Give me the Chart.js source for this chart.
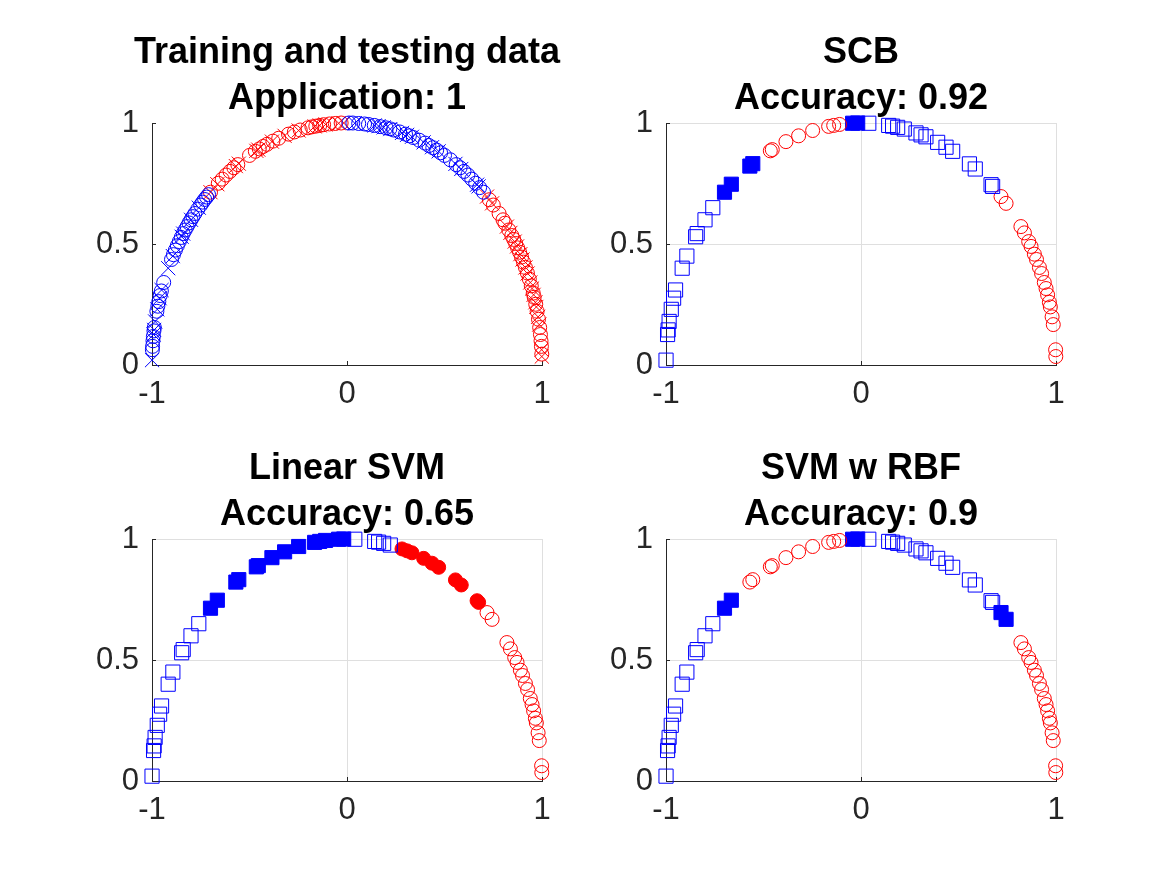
<!DOCTYPE html>
<html><head><meta charset="utf-8">
<script src="https://cdn.jsdelivr.net/npm/chart.js@4.4.1/dist/chart.umd.min.js"></script>
<style>
html,body{margin:0;padding:0;background:#fff;}
#fig{position:relative;width:1167px;height:875px;overflow:hidden;background:#fff;}
#fig canvas{position:absolute;}
</style></head><body>
<div id="fig">
<canvas id="c1" width="550" height="420" style="left:72px;top:0px;width:550px;height:420px"></canvas>
<canvas id="c2" width="550" height="420" style="left:586px;top:0px;width:550px;height:420px"></canvas>
<canvas id="c3" width="550" height="420" style="left:72px;top:416px;width:550px;height:420px"></canvas>
<canvas id="c4" width="550" height="420" style="left:586px;top:416px;width:550px;height:420px"></canvas>
</div>
<script>
// ---- tick values / labels ----
const xTicks = [-1, 0, 1];
const xTickLabels = ['-1', '0', '1'];
const yTicks = [0, 0.5, 1];
const yTickLabels = ['0', '0.5', '1'];

// ---- titles ----
const title1 = ['Training and testing data', 'Application: 1'];
const title2 = ['SCB', 'Accuracy: 0.92'];
const title3 = ['Linear SVM', 'Accuracy: 0.65'];
const title4 = ['SVM w RBF', 'Accuracy: 0.9'];

// ---- training data (class 1 = blue, class 2 = red) ----
const trainBlueX = [-0.998,-0.997,-0.995,-0.993,-0.99,-0.988,-0.975,-0.97,-0.965,-0.958,-0.952,-0.94,-0.9,-0.89,-0.88,-0.87,-0.86,-0.85,-0.84,-0.83,-0.82,-0.81,-0.8,-0.79,-0.78,-0.765,-0.75,-0.74,-0.73,-0.72,-0.71,
  0.01,0.03,0.06,0.09,0.11,0.14,0.17,0.2,0.22,0.24,0.27,0.3,0.32,0.34,0.37,0.4,0.42,0.44,0.46,0.48,0.5,0.53,0.56,0.58,0.6,0.62,0.64,0.66,0.68,0.7];
const trainBlueY = [0.063,0.077,0.100,0.118,0.141,0.155,0.222,0.243,0.262,0.287,0.306,0.341,0.436,0.456,0.475,0.493,0.510,0.527,0.543,0.558,0.572,0.587,0.600,0.613,0.626,0.644,0.661,0.673,0.684,0.694,0.704,
  1.0,1.0,0.998,0.996,0.994,0.990,0.985,0.980,0.976,0.971,0.963,0.954,0.947,0.940,0.929,0.917,0.907,0.898,0.888,0.877,0.866,0.848,0.828,0.815,0.800,0.785,0.768,0.751,0.733,0.714];
const trainRedX = [-0.70,-0.66,-0.64,-0.62,-0.6,-0.58,-0.56,-0.5,-0.47,-0.45,-0.43,-0.41,-0.38,-0.35,-0.3,-0.27,-0.24,-0.2,-0.18,-0.16,-0.14,-0.12,-0.09,-0.06,-0.03,
  0.73,0.75,0.78,0.8,0.81,0.83,0.845,0.855,0.865,0.875,0.885,0.895,0.905,0.915,0.925,0.935,0.945,0.955,0.96,0.968,0.975,0.982,0.988,0.992,0.995,0.997,0.999];
const trainRedY = [0.714,0.751,0.768,0.785,0.800,0.815,0.828,0.866,0.883,0.893,0.903,0.912,0.925,0.937,0.954,0.963,0.971,0.980,0.984,0.987,0.990,0.993,0.996,0.998,1.0,
  0.683,0.661,0.626,0.600,0.586,0.558,0.535,0.519,0.502,0.484,0.466,0.446,0.425,0.403,0.380,0.355,0.327,0.297,0.280,0.251,0.222,0.189,0.155,0.126,0.100,0.077,0.045];

// ---- testing data ----
const testX = [-0.9998,-0.992,-0.989,-0.984,-0.973,-0.961,-0.951,-0.917,-0.893,-0.848,-0.84,-0.80,-0.76,-0.70,-0.665,-0.57,-0.555,-0.465,-0.455,-0.385,-0.32,-0.248,-0.166,-0.14,-0.11,-0.043,-0.017,0.04,0.142,0.162,0.188,0.222,0.282,0.308,0.333,0.393,0.436,0.47,0.556,0.586,0.667,0.675,0.718,0.744,0.82,0.838,0.86,0.872,0.889,0.90,0.915,0.926,0.94,0.949,0.957,0.966,0.971,0.98,0.986,0.998,0.999];
const testY = [0.02,0.126,0.145,0.18,0.23,0.276,0.31,0.40,0.45,0.53,0.543,0.60,0.65,0.714,0.747,0.822,0.832,0.885,0.89,0.923,0.947,0.969,0.986,0.99,0.994,0.999,1.0,0.999,0.99,0.987,0.982,0.975,0.959,0.951,0.943,0.92,0.90,0.883,0.831,0.81,0.745,0.738,0.696,0.668,0.572,0.546,0.51,0.49,0.458,0.436,0.403,0.378,0.341,0.316,0.29,0.259,0.24,0.199,0.167,0.063,0.035];
const testTrue   = [1,1,1,1,1,1,1,1,1,1,1,1,1, 2,2,2,2,2,2,2,2,2,2,2,2,2,2, 1,1,1,1,1,1,1,1,1,1,1,1,1,1,1, 2,2,2,2,2,2,2,2,2,2,2,2,2,2,2,2,2,2,2];
const predSCB    = [1,1,1,1,1,1,1,1,1,1,1,1,1,1,1,1,1, 2,2,2,2,2,2,2,2, 1,1,1,1,1,1,1,1,1,1,1,1,1,1,1,1,1, 2,2,2,2,2,2,2,2,2,2,2,2,2,2,2,2,2,2,2];
const predLinear = [1,1,1,1,1,1,1,1,1,1,1,1,1,1,1,1,1,1,1,1,1,1,1,1,1,1,1,1,1,1,1,1, 2,2,2,2,2,2,2,2,2,2,2,2,2,2,2,2,2,2,2,2,2,2,2,2,2,2,2,2,2];
const predRBF    = [1,1,1,1,1,1,1,1,1,1,1,1,1,1,1, 2,2,2,2,2,2,2,2,2,2, 1,1,1,1,1,1,1,1,1,1,1,1,1,1,1,1,1,1,1, 2,2,2,2,2,2,2,2,2,2,2,2,2,2,2,2,2];

// ---- style ----
const BLUE = '#0000ff', RED = '#ff0000', NONE = 'rgba(0,0,0,0)';
const FONT = "'Liberation Sans', Arial, Helvetica, sans-serif";
const AXIS = '#262626', GRID = '#dfdfdf';
const R_CIRCLE = 7, R_SQUARE = 10, R_CROSS = 10;

function pts(xs, ys) { return xs.map((x, i) => ({x: x, y: ys[i]})); }
function pick(pred, truth, p, t) {
  const out = [];
  testX.forEach((x, i) => { if (pred[i] === p && truth[i] === t) out.push({x: x, y: testY[i]}); });
  return out;
}
function ds(data, style, color, filled, r) {
  return {data: data, pointStyle: style, pointRadius: r, borderWidth: 1, borderColor: color,
    pointBorderColor: color, pointBackgroundColor: filled ? color : NONE, backgroundColor: filled ? color : NONE,
    showLine: false, clip: false};
}
function testPts(labelVal) {
  return pick(testTrue, testTrue, labelVal, labelVal);
}

function make(id, title, datasets, showGrid) {
  new Chart(document.getElementById(id), {
    type: 'scatter',
    data: {datasets: datasets},
    options: {
      responsive: false, animation: false, events: [],
      layout: {padding: {left: 10, right: 10, top: 0, bottom: 5}},
      plugins: {
        legend: {display: false}, tooltip: {enabled: false},
        title: {display: true, text: title, color: '#000', align: 'center',
          font: {family: FONT, size: 36, weight: 'bold', lineHeight: '46px'},
          padding: {top: 30, bottom: 1}}
      },
      scales: {
        x: {type: 'linear', position: 'bottom', min: -1, max: 1,
          afterBuildTicks: s => { s.ticks = xTicks.map(v => ({value: v})); },
          afterFit: s => { s.height = 50; },
          ticks: {callback: (v, i) => xTickLabels[i], color: AXIS, font: {family: FONT, size: 31},
            padding: 15, maxRotation: 0, autoSkip: false},
          grid: {display: true, drawOnChartArea: showGrid, color: GRID, tickColor: AXIS, tickLength: -4, lineWidth: 1},
          border: {display: true, color: AXIS, width: 1}},
        y: {type: 'linear', position: 'left', min: 0, max: 1,
          afterBuildTicks: s => { s.ticks = yTicks.map(v => ({value: v})); },
          afterFit: s => { s.width = 70; },
          ticks: {callback: (v, i) => yTickLabels[i], color: AXIS, font: {family: FONT, size: 31},
            padding: 17, autoSkip: false},
          grid: {display: true, drawOnChartArea: showGrid, color: GRID, tickColor: AXIS, tickLength: -4, lineWidth: 1},
          border: {display: true, color: AXIS, width: 1}},
        yR: {type: 'linear', position: 'right', display: true, min: 0, max: 1,
          afterFit: s => { s.width = 70; },
          ticks: {display: false}, grid: {display: false}, border: {display: false}}
      }
    }
  });
}

function classifierSets(pred) {
  return [
    ds(pick(pred, testTrue, 1, 1), 'rect', BLUE, false, R_SQUARE),
    ds(pick(pred, testTrue, 2, 2), 'circle', RED, false, R_CIRCLE),
    ds(pick(pred, testTrue, 1, 2), 'rect', BLUE, true, R_SQUARE),
    ds(pick(pred, testTrue, 2, 1), 'circle', RED, true, R_CIRCLE)
  ];
}

make('c1', title1, [
  ds(pts(trainBlueX, trainBlueY), 'circle', BLUE, false, R_CIRCLE),
  ds(pts(trainRedX, trainRedY), 'circle', RED, false, R_CIRCLE),
  ds(testPts(1), 'crossRot', BLUE, false, R_CROSS),
  ds(testPts(2), 'crossRot', RED, false, R_CROSS)
], false);
make('c2', title2, classifierSets(predSCB), true);
make('c3', title3, classifierSets(predLinear), true);
make('c4', title4, classifierSets(predRBF), true);
</script>
</body></html>
